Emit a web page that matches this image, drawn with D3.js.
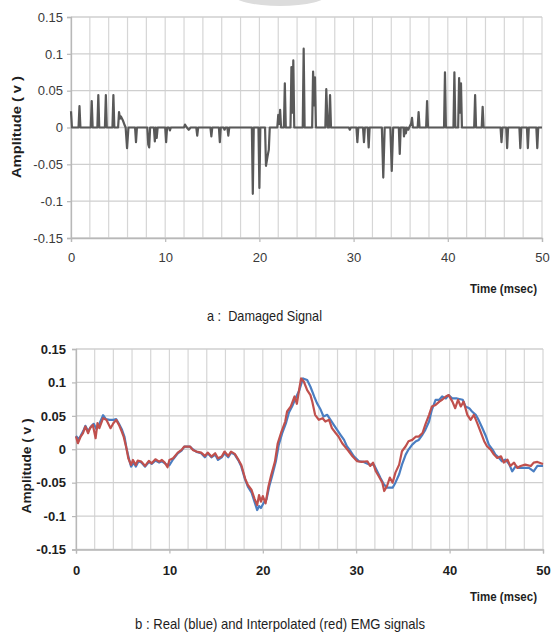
<!DOCTYPE html>
<html>
<head>
<meta charset="utf-8">
<script src="https://cdn.jsdelivr.net/npm/d3@7"></script>
<style>
  body { margin: 0; background: #fff; }
  svg { display: block; }
</style>
</head>
<body>
<svg width="558" height="638"></svg>
<script>
// tick labels
const xTicks = [0, 10, 20, 30, 40, 50];
const yTicks = [0.15, 0.1, 0.05, 0, -0.05, -0.1, -0.15];

// panel a : damaged signal, [time msec, amplitude v]
const damaged = [
  [0, 0.022], [0.1, 0], [0.8, 0], [0.9, 0.029], [1.0, 0], [2.1, 0], [2.2, 0.036], [2.3, 0],
  [2.8, 0], [2.9, 0.044], [3.0, 0], [3.6, 0], [3.7, 0.044], [3.8, 0], [4.4, 0], [4.5, 0.044],
  [4.6, 0], [5.0, 0], [5.1, 0.021], [5.2, 0.012], [5.3, 0.015], [5.5, 0.010], [5.7, 0.003],
  [5.8, 0], [5.95, -0.028], [6.1, 0], [6.8, 0], [6.9, -0.020], [7.0, 0], [8.1, 0],
  [8.2, -0.023], [8.3, -0.027], [8.4, 0], [8.8, 0], [8.9, -0.019], [9.0, 0], [9.1, -0.014],
  [9.2, 0], [10.0, 0], [10.1, -0.020], [10.2, 0], [10.4, 0], [10.5, -0.004], [10.6, 0],
  [12.0, 0], [12.1, 0.004], [12.3, 0], [12.5, -0.003], [12.7, 0], [13.3, 0], [13.4, -0.011],
  [13.5, 0], [14.8, 0], [14.9, -0.012], [15.0, 0], [15.7, 0], [15.8, -0.020], [15.9, 0],
  [16.2, 0], [16.3, -0.003], [16.4, 0], [16.6, 0], [16.7, -0.011], [16.8, 0], [19.2, 0],
  [19.3, -0.090], [19.4, 0], [19.9, 0], [20.0, -0.082], [20.1, 0], [20.6, 0], [20.7, -0.052],
  [20.85, -0.040], [21.0, -0.030], [21.1, 0], [21.9, 0], [22.0, 0.017], [22.1, 0.005],
  [22.2, 0.024], [22.3, 0], [22.6, 0], [22.7, 0.060], [22.8, 0], [23.3, 0], [23.4, 0.082],
  [23.5, 0.020], [23.6, 0.091], [23.7, 0], [24.6, 0], [24.7, 0.107], [24.8, 0], [25.6, 0],
  [25.7, 0.076], [25.8, 0.030], [25.9, 0.068], [26.0, 0], [27.0, 0], [27.1, 0.052],
  [27.25, 0], [27.4, 0], [27.5, 0.044], [27.6, 0], [29.5, 0], [29.6, -0.003], [29.7, 0],
  [30.3, 0], [30.4, -0.020], [30.5, 0], [31.0, 0], [31.1, -0.020], [31.2, 0], [31.5, 0],
  [31.6, -0.027], [31.7, 0], [33.0, 0], [33.15, -0.068], [33.3, 0], [33.9, 0], [34.05, -0.059],
  [34.2, 0], [34.8, 0], [34.9, -0.036], [35.0, 0], [35.3, 0], [35.35, -0.012], [35.45, 0],
  [35.55, -0.008], [35.65, 0], [35.8, -0.003], [35.9, 0], [36.1, 0.005], [36.2, 0.013],
  [36.3, 0], [36.8, 0], [36.9, 0.021], [37.0, 0], [37.7, 0], [37.8, 0.036], [37.9, 0],
  [39.6, 0], [39.7, 0.075], [39.8, 0], [40.6, 0], [40.7, 0.075], [40.8, 0], [41.1, 0],
  [41.2, 0.067], [41.3, 0.020], [41.4, 0.060], [41.5, 0], [42.8, 0], [42.9, 0.044], [43.0, 0],
  [43.6, 0], [43.7, 0.028], [43.8, 0], [45.6, 0], [45.7, -0.020], [45.8, 0], [46.2, 0],
  [46.3, -0.028], [46.4, 0], [47.6, 0], [47.7, -0.028], [47.8, 0], [48.4, 0], [48.5, -0.028],
  [48.6, 0], [49.4, 0], [49.5, -0.028], [49.6, 0], [50, 0]
];

// panel b : real EMG signal (blue)
const realSignal = [
  [0, 0.020], [0.3, 0.015], [0.5, 0.020], [0.8, 0.028], [1.0, 0.035], [1.3, 0.027], [1.6, 0.034],
  [1.9, 0.038], [2.2, 0.030], [2.5, 0.038], [2.9, 0.051], [3.2, 0.045], [3.6, 0.044], [4.0, 0.044],
  [4.3, 0.045], [4.6, 0.038], [4.9, 0.030], [5.2, 0.018], [5.4, 0.002], [5.7, -0.016], [5.9, -0.026],
  [6.2, -0.020], [6.4, -0.026], [6.7, -0.018], [7.0, -0.020], [7.4, -0.026], [7.8, -0.019],
  [8.1, -0.022], [8.5, -0.017], [8.9, -0.020], [9.2, -0.018], [9.6, -0.022], [10.0, -0.024],
  [10.4, -0.015], [10.9, -0.006], [11.3, -0.002], [11.6, 0.004], [12.2, 0.004], [12.5, 0.000],
  [12.9, -0.004], [13.4, -0.006], [13.8, -0.012], [14.1, -0.006], [14.5, -0.012], [14.9, -0.008],
  [15.2, -0.016], [15.6, -0.012], [15.9, -0.006], [16.3, -0.012], [16.6, -0.005], [17.0, -0.008],
  [17.4, -0.017], [17.7, -0.026], [18.1, -0.045], [18.4, -0.056], [18.8, -0.065], [19.1, -0.078],
  [19.4, -0.091], [19.6, -0.085], [19.8, -0.088], [20.1, -0.080], [20.4, -0.075], [20.7, -0.055],
  [21.0, -0.040], [21.4, -0.018], [21.7, 0.006], [22.1, 0.025], [22.5, 0.040], [22.8, 0.055],
  [23.2, 0.066], [23.5, 0.076], [23.9, 0.088], [24.3, 0.106], [24.75, 0.1035], [25.1, 0.0935],
  [25.5, 0.079], [25.8, 0.069], [26.2, 0.059], [26.5, 0.049], [26.9, 0.0515], [27.25, 0.044],
  [27.6, 0.0365], [27.96, 0.029], [28.3, 0.022], [28.7, 0.014], [29.0, 0.0045], [29.4, -0.003],
  [29.75, -0.0105], [30.3, -0.018], [30.8, -0.019], [31.4, -0.023], [31.9, -0.023], [32.25, -0.033],
  [32.6, -0.043], [32.96, -0.0525], [33.3, -0.0575], [33.9, -0.0575], [34.2, -0.050], [34.6, -0.0375],
  [34.9, -0.023], [35.3, -0.008], [35.6, -0.0005], [36.0, 0.007], [36.4, 0.012], [36.7, 0.014],
  [37.1, 0.022], [37.4, 0.029], [37.8, 0.0415], [38.1, 0.059], [38.5, 0.074], [38.9, 0.074],
  [39.2, 0.079], [39.6, 0.076], [39.9, 0.081], [40.3, 0.076], [40.8, 0.076], [41.4, 0.074],
  [41.7, 0.064], [42.1, 0.0615], [42.4, 0.0565], [42.8, 0.0515], [43.1, 0.044], [43.5, 0.0317],
  [43.9, 0.019], [44.2, 0.007], [44.6, -0.0005], [44.9, -0.008], [45.3, -0.013], [45.6, -0.018],
  [46.0, -0.0155], [46.4, -0.023], [46.7, -0.033], [47.1, -0.025], [47.4, -0.028], [48.0, -0.028],
  [48.5, -0.028], [49.0, -0.033], [49.4, -0.025], [50, -0.025]
];

// panel b : interpolated EMG signal (red)
const interpSignal = [
  [0, 0.019], [0.2, 0.009], [0.5, 0.019], [0.75, 0.024], [1.0, 0.034], [1.3, 0.024], [1.5, 0.0315],
  [1.8, 0.0365], [2.1, 0.0165], [2.3, 0.039], [2.5, 0.0315], [2.9, 0.0465], [3.25, 0.044],
  [3.7, 0.0315], [4.0, 0.039], [4.3, 0.044], [4.6, 0.0365], [4.9, 0.0265], [5.1, 0.019],
  [5.4, 0.0015], [5.6, -0.0135], [5.9, -0.0235], [6.1, -0.016], [6.4, -0.0235], [6.6, -0.017],
  [7.0, -0.0185], [7.4, -0.025], [7.8, -0.0175], [8.1, -0.021], [8.5, -0.015], [8.9, -0.0185],
  [9.2, -0.016], [9.5, -0.020], [9.8, -0.027], [10.0, -0.016], [10.4, -0.0135], [10.9, -0.005],
  [11.3, -0.001], [11.6, 0.004], [12.2, 0.004], [12.5, -0.001], [12.9, -0.0035], [13.4, -0.005],
  [13.8, -0.010], [14.1, -0.005], [14.5, -0.011], [14.9, -0.006], [15.2, -0.0135], [15.6, -0.011],
  [15.9, -0.0035], [16.3, -0.010], [16.6, -0.0035], [17.0, -0.007], [17.4, -0.016], [17.7, -0.0235],
  [18.1, -0.0435], [18.4, -0.0535], [18.8, -0.061], [19.1, -0.0735], [19.4, -0.0835], [19.6, -0.0685],
  [19.8, -0.0785], [20.0, -0.070], [20.3, -0.081], [20.6, -0.056], [20.9, -0.0385], [21.3, -0.0185],
  [21.6, 0.009], [22.0, 0.0265], [22.4, 0.0415], [22.6, 0.0565], [23.0, 0.064], [23.4, 0.079],
  [23.65, 0.068], [23.9, 0.090], [24.1, 0.106], [24.4, 0.101], [24.75, 0.0885], [25.1, 0.081],
  [25.3, 0.071], [25.6, 0.0515], [26.0, 0.044], [26.4, 0.0465], [26.7, 0.0415], [27.1, 0.044],
  [27.4, 0.0317], [27.8, 0.0243], [28.1, 0.019], [28.5, 0.009], [28.9, 0.002], [29.2, -0.003],
  [29.6, -0.0105], [30.1, -0.018], [30.6, -0.019], [31.2, -0.018], [31.5, -0.025], [31.8, -0.020],
  [32.1, -0.033], [32.4, -0.040], [32.8, -0.050], [33.0, -0.0625], [33.3, -0.055], [33.6, -0.0425],
  [33.9, -0.050], [34.2, -0.035], [34.6, -0.023], [34.9, -0.003], [35.3, 0.0045], [35.6, 0.012],
  [36.0, 0.014], [36.4, 0.019], [36.7, 0.019], [37.1, 0.0243], [37.4, 0.0367], [37.8, 0.0515],
  [38.1, 0.064], [38.5, 0.0663], [38.9, 0.0713], [39.2, 0.074], [39.6, 0.079], [39.9, 0.081],
  [40.3, 0.0713], [40.6, 0.0614], [40.9, 0.074], [41.2, 0.064], [41.5, 0.0713], [41.9, 0.0515],
  [42.25, 0.044], [42.6, 0.0515], [42.96, 0.039], [43.3, 0.0267], [43.7, 0.012], [44.0, 0.0045],
  [44.4, -0.0005], [44.75, -0.008], [45.1, -0.013], [45.5, -0.0105], [45.8, -0.020], [46.2, -0.0155],
  [46.5, -0.025], [46.9, -0.020], [47.25, -0.028], [47.6, -0.025], [48.1, -0.023], [48.7, -0.025],
  [49.0, -0.020], [49.4, -0.019], [50, -0.022]
];

const svg = d3.select("svg");

// faint smudge at the top of the scan
svg.append("ellipse")
    .attr("cx", 280).attr("cy", -6)
    .attr("rx", 48).attr("ry", 12)
    .attr("fill", "#dcdcdc");

function drawPanel(opts) {
    const x = d3.scaleLinear().domain([0, 50]).range([opts.left, opts.right]);
    const y = d3.scaleLinear().domain([-0.15, 0.15]).range([opts.bottom, opts.top]);
    const g = svg.append("g");

    // grid
    g.append("g").selectAll("line")
        .data(x.ticks(25))
        .join("line")
        .attr("x1", d => x(d)).attr("x2", d => x(d))
        .attr("y1", opts.top).attr("y2", opts.bottom)
        .attr("stroke", "#d6d6d6").attr("stroke-width", 1.2);
    g.append("g").selectAll("line")
        .data(yTicks)
        .join("line")
        .attr("x1", opts.left).attr("x2", opts.right)
        .attr("y1", d => y(d)).attr("y2", d => y(d))
        .attr("stroke", "#cfcfcf").attr("stroke-width", 1.3);

    // axes (plain hyphen for negative labels, as in the original)
    const xAxis = g.append("g")
        .attr("transform", `translate(0,${opts.bottom})`)
        .call(d3.axisBottom(x).tickValues(xTicks).tickSize(4).tickFormat(d => String(d)));
    const yAxis = g.append("g")
        .attr("transform", `translate(${opts.left},0)`)
        .call(d3.axisLeft(y).tickValues(yTicks).tickSize(4).tickFormat(d => String(d)));

    [xAxis, yAxis].forEach(a => {
        a.select(".domain").attr("stroke", "#b8b8b8").attr("stroke-width", 1.3);
        a.selectAll(".tick line").attr("stroke", "#b8b8b8").attr("stroke-width", 1.2);
        a.selectAll("text")
            .attr("font-family", "Liberation Sans, Arial, sans-serif")
            .attr("font-size", 13)
            .attr("font-weight", opts.bold ? "bold" : "normal")
            .attr("fill", opts.bold ? "#1e1e1e" : "#3a3a3a");
    });
    xAxis.selectAll("text").attr("y", opts.xLabelY);
    yAxis.selectAll("text").attr("x", -opts.yLabelGap);

    // y title
    g.append("text")
        .attr("transform", `translate(${opts.yTitleX},${opts.yTitleY}) rotate(-90)`)
        .attr("text-anchor", "middle")
        .attr("font-family", "Liberation Sans, Arial, sans-serif")
        .attr("font-size", 12.5)
        .attr("font-weight", "bold")
        .attr("fill", "#1e1e1e")
        .attr("textLength", opts.yTitleLen)
        .attr("lengthAdjust", "spacingAndGlyphs")
        .text("Amplitude ( v )");

    // x title
    g.append("text")
        .attr("x", 470).attr("y", opts.xTitleY)
        .attr("font-family", "Liberation Sans, Arial, sans-serif")
        .attr("font-size", 13)
        .attr("font-weight", "bold")
        .attr("fill", "#1e1e1e")
        .attr("textLength", 67)
        .attr("lengthAdjust", "spacingAndGlyphs")
        .text("Time (msec)");

    // caption
    g.append("text")
        .attr("x", opts.capX).attr("y", opts.capY)
        .attr("font-family", "Liberation Sans, Arial, sans-serif")
        .attr("font-size", 15)
        .attr("fill", "#1e1e1e")
        .attr("textLength", opts.capLen)
        .attr("lengthAdjust", "spacingAndGlyphs")
        .attr("xml:space", "preserve")
        .text(opts.caption);

    const line = d3.line().x(d => x(d[0])).y(d => y(d[1]));
    opts.series.forEach(s => {
        g.append("path")
            .datum(s.data)
            .attr("d", line)
            .attr("fill", "none")
            .attr("stroke", s.color)
            .attr("stroke-width", s.width)
            .attr("stroke-linejoin", "round");
    });
}

drawPanel({
    left: 71, right: 542, top: 17, bottom: 238,
    bold: false, xLabelY: 15, yLabelGap: 8,
    yTitleX: 21, yTitleY: 127, yTitleLen: 102,
    xTitleY: 293,
    caption: "a :  Damaged Signal", capX: 207, capY: 321, capLen: 115,
    series: [{ data: damaged, color: "#595959", width: 2.2 }]
});

drawPanel({
    left: 76, right: 543, top: 349, bottom: 549.5,
    bold: true, xLabelY: 16, yLabelGap: 10,
    yTitleX: 31, yTitleY: 466, yTitleLen: 95,
    xTitleY: 601,
    caption: "b : Real (blue) and Interpolated (red) EMG signals", capX: 135, capY: 629, capLen: 290,
    series: [
        { data: realSignal, color: "#4a7ec2", width: 2.2 },
        { data: interpSignal, color: "#c0504d", width: 2.2 }
    ]
});
</script>
</body>
</html>
